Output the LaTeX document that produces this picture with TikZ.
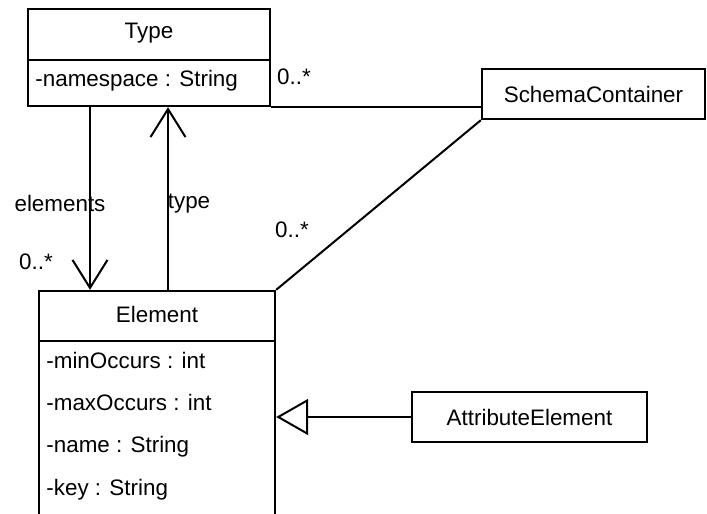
\documentclass[tikz,border=0pt]{standalone}
\usepackage{fontspec}
\setmainfont{Liberation Sans}
\usepackage{tikz}
\usetikzlibrary{shapes,arrows.meta,positioning,calc}

\begin{document}
\begin{tikzpicture}[x=0.5pt,y=-0.5pt,
    font=\fontsize{11.2}{13}\selectfont,
    cls/.style={draw,line width=1.2pt,rectangle,inner sep=0pt},
    txt/.style={inner sep=0pt,anchor=base west},
    lbl/.style={inner sep=0pt},
    assoc/.style={line width=1pt},
    nav/.style={line width=1pt,-{Straight Barb[length=14pt,width=17.5pt,line width=1pt]}},
    gen/.style={line width=1pt,-{Triangle[open,length=16pt,width=18pt,line width=1pt,fill=white]}}]
            \clip (0,0) rectangle (707,514);
            % classes
            \node[cls,minimum width=121pt,minimum height=48.5pt] (type) at (149,57.5) {};
            \node[cls,minimum width=118pt,minimum height=140pt] (elem) at (157,431) {};
            \node[cls,minimum width=111.5pt,minimum height=25pt] (sc) at (593.5,94) {SchemaContainer};
            \node[cls,minimum width=117.5pt,minimum height=25pt] (attr) at (529.5,417) {AttributeElement};
            % compartments
            \node[lbl] (typename) at (149,33) {Type};
            \draw[line width=1.2pt] (type.west |- 0,60) -- (type.east |- 0,60);
            \node[txt] (ns) at (35,86) {-namespace : String};
            \node[lbl] (elemname) at (157,314) {Element};
            \draw[line width=1.2pt] (elem.west |- 0,341) -- (elem.east |- 0,341);
            \foreach \t [count=\i] in {-minOccurs : int,-maxOccurs : int,-name : String,-key : String} {
                \node[txt] (att\i) at (46,326+\i*42.3) {\t};
            }
            % connectors
            \draw[assoc] (type.south east) -- (type.south east -| sc.west);
            \draw[assoc] (elem.north east) -- (sc.south west);
            \draw[nav] (type.south -| 90,0) -- (elem.north -| 90,0);
            \draw[nav] (elem.north -| 168,0) -- (type.south -| 168,0);
            \draw[gen] (attr.west) -- (attr.west -| elem.east);
            % multiplicities and roles
            \node[lbl] (m1) at (294,77) {0..*};
            \node[lbl] (m2) at (292,230) {0..*};
            \node[lbl] (m3) at (36,262) {0..*};
            \node[lbl] (r1) at (60,203) {elements};
            \node[lbl] (r2) at (189,204) {type};
        \end{tikzpicture}
\end{document}
